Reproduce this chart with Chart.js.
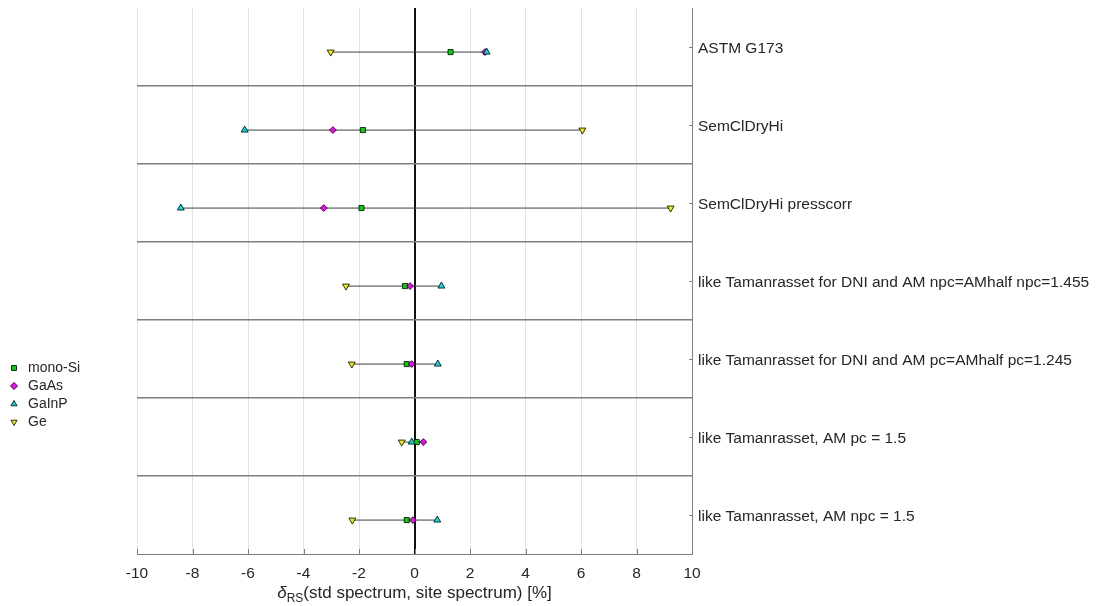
<!DOCTYPE html>
<html>
<head>
<meta charset="utf-8">
<script src="https://cdn.jsdelivr.net/npm/chart.js@4.4.1/dist/chart.umd.min.js"></script>
<style>
  html, body { margin: 0; padding: 0; background: #fff; }
  #wrap { position: relative; width: 1096px; height: 606px; }
</style>
</head>
<body>
<div id="wrap"><canvas id="deltaChart"></canvas></div>
<script>
// ---------------- DATA ----------------
const rowLabels = [
    "ASTM G173",
    "SemClDryHi",
    "SemClDryHi presscorr",
    "like Tamanrasset for DNI and AM npc=AMhalf npc=1.455",
    "like Tamanrasset for DNI and AM pc=AMhalf pc=1.245",
    "like Tamanrasset, AM pc = 1.5",
    "like Tamanrasset, AM npc = 1.5"
];
const seriesNames = ["mono-Si", "GaAs", "GaInP", "Ge"];
const monoSi = [1.30, -1.86, -1.91, -0.34, -0.28, 0.08, -0.28];
const gaAs   = [2.54, -2.94, -3.27, -0.16, -0.10, 0.32, -0.06];
const gaInP  = [2.60, -6.12, -8.42, 0.97, 0.84, -0.10, 0.82];
const ge     = [-3.02, 6.05, 9.23, -2.47, -2.26, -0.46, -2.24];
const xTicks = [-10, -8, -6, -4, -2, 0, 2, 4, 6, 8, 10];

// ---------------- STYLE ----------------
const FONT = '"Liberation Sans", Arial, Helvetica, sans-serif';
const TEXT = "#262626";
const AXIS = "#808080";
const markerShift = 0.065;   // markers sit a little under the row centre

const seriesValues = [monoSi, gaAs, gaInP, ge];
const seriesStyle = [
    { color: "#00d400", pointStyle: "rect",    radius: 3.6, rotation: 0 },
    { color: "#ff00ff", pointStyle: "rectRot", radius: 3.4, rotation: 0 },
    { color: "#00e0e0", pointStyle: "triangle", radius: 4,  rotation: 0 },
    { color: "#eeee00", pointStyle: "triangle", radius: 4,  rotation: 180 }
];

// ---------------- DATASETS ----------------
const rangeSets = rowLabels.map((_, i) => {
    const vals = seriesValues.map(s => s[i]);
    return {
        label: "range" + i,
        data: [
            { x: Math.min(...vals), y: i + markerShift },
            { x: Math.max(...vals), y: i + markerShift }
        ],
        showLine: true,
        borderColor: "#404040",
        borderWidth: 1,
        pointRadius: 0,
        order: 10
    };
});

const markerSets = seriesNames.map((name, k) => ({
    label: name,
    data: seriesValues[k].map((v, i) => ({ x: v, y: i + markerShift })),
    pointStyle: seriesStyle[k].pointStyle,
    rotation: seriesStyle[k].rotation,
    pointRadius: seriesStyle[k].radius,
    backgroundColor: seriesStyle[k].color,
    borderColor: "#000",
    borderWidth: 0.8,
    order: 5 - k
}));

// ---------------- PLUGINS ----------------
// put the legend at the left, lower half
const legendSpot = {
    id: "legendSpot",
    afterLayout(chart) {
        const lg = chart.legend;
        lg.left = 3; lg.top = 357;
        lg.width = 110; lg.height = 90;
        lg.right = lg.left + lg.width;
        lg.bottom = lg.top + lg.height;
    }
};

// short tick marks pointing into the plot + x axis title with subscript
const axisExtras = {
    id: "axisExtras",
    afterDraw(chart) {
        const { ctx, chartArea: area, scales } = chart;
        ctx.save();
        ctx.strokeStyle = AXIS;
        ctx.lineWidth = 1;
        ctx.beginPath();
        scales.x.ticks.forEach(t => {
            const px = Math.round(scales.x.getPixelForValue(t.value)) + 0.5;
            ctx.moveTo(px, area.bottom);
            ctx.lineTo(px, area.bottom - 5);
        });
        scales.y.ticks.forEach(t => {
            const py = Math.round(scales.y.getPixelForValue(t.value)) + 0.5;
            ctx.moveTo(area.right, py);
            ctx.lineTo(area.right - 3, py);
        });
        ctx.stroke();

        const main = "(std spectrum, site spectrum) [%]";
        const big = "17px " + FONT;
        const ital = "italic 17px " + FONT;
        const small = "12px " + FONT;
        ctx.font = ital;  const wD = ctx.measureText("δ").width;
        ctx.font = small; const wS = ctx.measureText("RS").width;
        ctx.font = big;   const wM = ctx.measureText(main).width;
        let cx = (scales.x.left + scales.x.right) / 2 - (wD + wS + wM) / 2;
        const base = scales.x.bottom - 8;
        ctx.fillStyle = TEXT;
        ctx.textBaseline = "alphabetic";
        ctx.textAlign = "left";
        ctx.font = ital;  ctx.fillText("δ", cx, base); cx += wD;
        ctx.font = small; ctx.fillText("RS", cx, base + 4); cx += wS;
        ctx.font = big;   ctx.fillText(main, cx, base);
        ctx.restore();
    }
};

// ---------------- CHART ----------------
new Chart(document.getElementById("deltaChart"), {
    type: "scatter",
    data: { datasets: [...rangeSets, ...markerSets] },
    options: {
        responsive: true,
        maintainAspectRatio: false,
        animation: false,
        layout: { padding: { left: 137, top: 8, right: 0, bottom: 0 } },
        plugins: {
            tooltip: { enabled: false },
            legend: {
                position: "chartArea",
                align: "start",
                labels: {
                    filter: item => !item.text.startsWith("range"),
                    sort: (a, b) => a.datasetIndex - b.datasetIndex,
                    usePointStyle: true,
                    boxHeight: 5,
                    padding: 4,
                    color: TEXT,
                    font: { family: FONT, size: 14 }
                }
            }
        },
        scales: {
            x: {
                type: "linear",
                min: xTicks[0],
                max: xTicks[xTicks.length - 1],
                afterBuildTicks: s => { s.ticks = xTicks.map(v => ({ value: v })); },
                afterFit: s => { s.height = 52; s.paddingLeft = 0; s.paddingRight = 0; },
                ticks: { color: TEXT, padding: 10, font: { family: FONT, size: 15.5 } },
                grid: {
                    drawTicks: false,
                    color: c => c.tick && c.tick.value === 0 ? "#111" : "#e3e3e3",
                    lineWidth: c => c.tick && c.tick.value === 0 ? 2 : 1
                },
                border: { color: AXIS, width: 1 }
            },
            y: {
                type: "linear",
                position: "right",
                reverse: true,
                min: -0.5,
                max: rowLabels.length - 0.5,
                afterBuildTicks: s => { s.ticks = rowLabels.map((_, i) => ({ value: i })); },
                afterFit: s => { s.width = 404; s.paddingTop = 0; s.paddingBottom = 0; },
                ticks: {
                    color: TEXT,
                    padding: 6,
                    labelOffset: 2,
                    font: { family: FONT, size: 15.5 },
                    callback: v => rowLabels[v]
                },
                grid: { display: false, drawTicks: false },
                border: { color: AXIS, width: 1 }
            },
            ySep: {
                type: "linear",
                position: "left",
                reverse: true,
                min: -0.5,
                max: rowLabels.length - 0.5,
                afterBuildTicks: s => {
                    s.ticks = rowLabels.slice(1).map((_, i) => ({ value: i + 0.5 }));
                },
                afterFit: s => { s.width = 0; s.paddingTop = 0; s.paddingBottom = 0; },
                ticks: { display: false },
                grid: { color: "#7f7f7f", lineWidth: 1.5, drawTicks: false },
                border: { display: false }
            }
        }
    },
    plugins: [legendSpot, axisExtras]
});
</script>
</body>
</html>
